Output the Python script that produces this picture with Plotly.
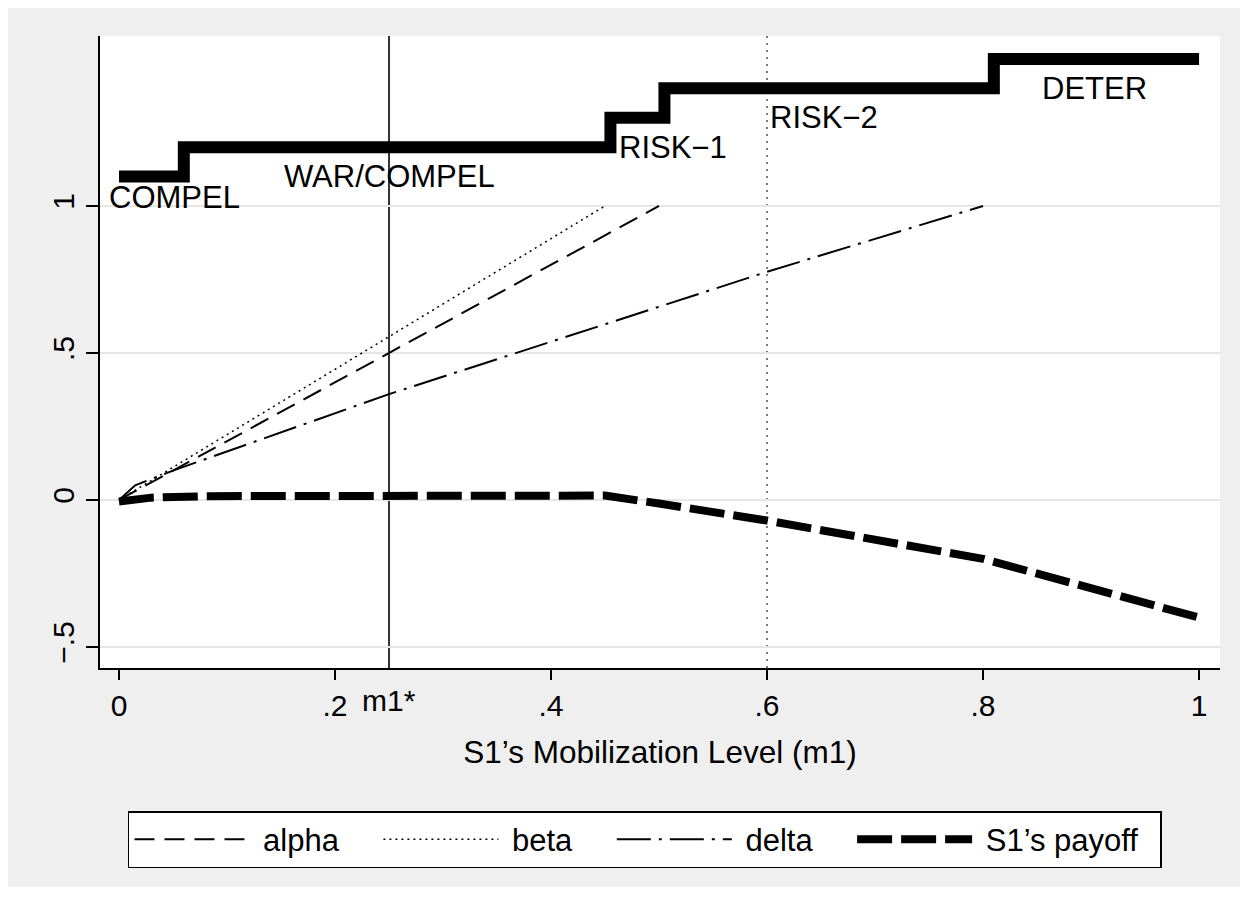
import plotly.graph_objects as go

# ---------------- data ----------------
m_alpha = [0.0, 0.25, 0.5]
alpha = [0.0, 0.5, 1.0]

m_beta = [0.0, 0.45]
beta = [0.0, 1.0]

m_delta = [0.0, 0.015, 0.05, 0.25, 0.6, 0.8]
delta = [0.0, 0.05, 0.10, 0.36, 0.776, 1.0]

m_payoff = [0.0, 0.03, 0.08, 0.45, 0.5, 0.6, 0.8, 1.0]
payoff = [-0.005, 0.008, 0.013, 0.015, -0.012, -0.07, -0.2, -0.40]

m_steps = [0.0, 0.06, 0.455, 0.505, 0.81, 1.0]
steps = [1.1, 1.2, 1.3, 1.4, 1.5, 1.5]

step_labels = ["COMPEL", "WAR/COMPEL", "RISK\u22121", "RISK\u22122", "DETER"]
label_m = [-0.011, 0.151, 0.461, 0.601, 0.853]
label_y = [1.03, 1.10, 1.20, 1.30, 1.40]

m1_star = 0.25
risk_line = 0.6

x_ticks = [0, 0.2, 0.4, 0.6, 0.8, 1.0]
x_ticktext = ["0", ".2", ".4", ".6", ".8", "1"]
y_ticks = [-0.5, 0, 0.5, 1]
y_ticktext = ["\u2212.5", "0", ".5", "1"]

series_names = ["alpha", "beta", "delta", "S1\u2019s payoff"]

FONT = "Liberation Sans, Arial, Helvetica, sans-serif"
GRAY = "#efefef"
NB = "\u00a0"


def legend_name(i):
    trail = NB * 4 if i < len(series_names) - 1 else NB * 2
    return NB + series_names[i] + trail


fig = go.Figure()

fig.add_trace(go.Scatter(x=m_alpha, y=alpha, mode="lines", name=legend_name(0),
                         line=dict(color="black", width=2, dash="20px,10px")))
fig.add_trace(go.Scatter(x=m_beta, y=beta, mode="lines", name=legend_name(1),
                         line=dict(color="black", width=1.5, dash="2px,4px")))
fig.add_trace(go.Scatter(x=m_delta, y=delta, mode="lines", name=legend_name(2),
                         line=dict(color="black", width=2, dash="34px,8px,3px,8px")))
fig.add_trace(go.Scatter(x=m_payoff, y=payoff, mode="lines", name=legend_name(3),
                         line=dict(color="black", width=8, dash="35px,9px")))
fig.add_trace(go.Scatter(x=m_steps, y=steps, mode="lines", showlegend=False,
                         line=dict(color="black", width=12, shape="hv")))

for t, xm, ym in zip(step_labels, label_m, label_y):
    fig.add_annotation(x=xm, y=ym, xref="x", yref="y", text=t, showarrow=False,
                       xanchor="left", yanchor="middle",
                       font=dict(size=31, color="black", family=FONT))

fig.add_vline(x=m1_star, line=dict(color="#333333", width=2), layer="below")
fig.add_vline(x=risk_line, line=dict(color="#555555", width=1.5, dash="2px,5px"), layer="below")

fig.add_annotation(x=m1_star, y=-0.0522, xref="x", yref="paper", text="m1*",
                   showarrow=False, xanchor="center", yanchor="middle",
                   font=dict(size=30, color="black", family=FONT))

fig.update_xaxes(range=[-0.0176, 1.0194], tickvals=x_ticks, ticktext=x_ticktext,
                 ticks="outside", ticklen=10, tickwidth=1.5, tickcolor="black",
                 showline=True, linecolor="black", linewidth=1.5,
                 showgrid=False, zeroline=False,
                 tickfont=dict(size=30, color="black", family=FONT),
                 title=dict(text="S1\u2019s Mobilization Level (m1)", standoff=20,
                            font=dict(size=31.5, color="black", family=FONT)))
fig.update_yaxes(range=[-0.5714, 1.578], tickvals=y_ticks, ticktext=y_ticktext,
                 ticks="outside", ticklen=12, tickwidth=1.5, tickcolor="black",
                 tickangle=-90,
                 showline=True, linecolor="black", linewidth=1.5,
                 showgrid=True, gridcolor="#e6e6e6", gridwidth=2, zeroline=False,
                 tickfont=dict(size=30, color="black", family=FONT))

fig.update_layout(
    width=1237, height=879,
    margin=dict(l=92, r=25, t=28, b=219),
    paper_bgcolor=GRAY, plot_bgcolor="white",
    font=dict(family=FONT, color="black"),
    legend=dict(orientation="h", x=0.4866, xanchor="center", y=-0.2263, yanchor="top",
                bgcolor="white", bordercolor="black", borderwidth=1.5,
                font=dict(size=31, color="black", family=FONT),
                itemwidth=115, tracegroupgap=0),
)

fig.write_html("out.html")
